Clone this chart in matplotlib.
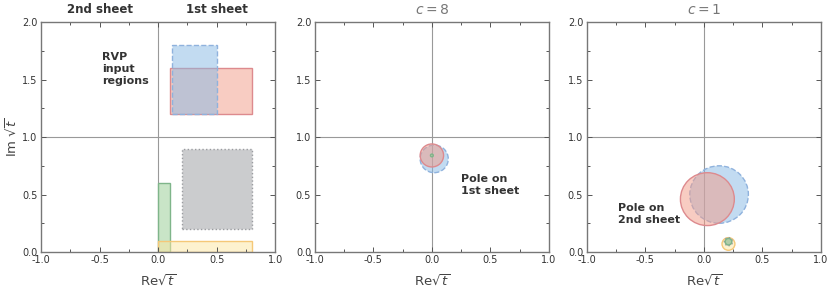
import matplotlib.pyplot as plt
from matplotlib.patches import Rectangle, Circle
from matplotlib.colors import to_rgba

plt.rcParams['axes.unicode_minus'] = False

# RVP input regions (x0, x1, y0, y1), drawn in this order
region_names = ["red", "blue", "gray", "green", "yellow"]
region_x0 = [0.10, 0.12, 0.20, 0.00, 0.00]
region_x1 = [0.80, 0.50, 0.80, 0.10, 0.80]
region_y0 = [1.20, 1.20, 0.20, 0.00, 0.00]
region_y1 = [1.60, 1.80, 0.90, 0.60, 0.10]

# pole regions, c = 8 (center x, center y, radius)
c8_names = ["blue", "red", "green"]
c8_x = [0.02, 0.00, 0.00]
c8_y = [0.81, 0.84, 0.84]
c8_r = [0.12, 0.10, 0.012]

# pole regions, c = 1
c1_names = ["blue", "red", "yellow", "gray", "green"]
c1_x = [0.13, 0.03, 0.21, 0.21, 0.21]
c1_y = [0.50, 0.46, 0.07, 0.09, 0.09]
c1_r = [0.25, 0.23, 0.055, 0.035, 0.028]

styles = {
    "blue":   dict(fc="#86b9e5", ec="#8fb2dd", ls="--", a=0.5),
    "red":    dict(fc="#f39b87", ec="#dd8a8e", ls="-", a=0.5),
    "gray":   dict(fc="#a9abae", ec="#9a9ca0", ls=":", a=0.6),
    "green":  dict(fc="#9ed19a", ec="#7fb58a", ls="-", a=0.55),
    "yellow": dict(fc="#fde6a0", ec="#f5c878", ls="-", a=0.5),
}

def style_patch(p, name):
    s = styles[name]
    p.set_facecolor(to_rgba(s["fc"], s["a"]))
    p.set_edgecolor(s["ec"])
    p.set_linestyle(s["ls"])
    p.set_linewidth(1.0)
    return p

fig = plt.figure(figsize=(8.31, 2.91), dpi=100)
lefts = [0.0493, 0.3787, 0.706]
axes = [fig.add_axes([l, 0.134, 0.282, 0.790]) for l in lefts]

txt = "#333333"
for ax in axes:
    ax.set_xlim(-1, 1)
    ax.set_ylim(0, 2)
    ax.set_xticks([-1, -0.5, 0, 0.5, 1])
    ax.set_xticks([-0.75, -0.25, 0.25, 0.75], minor=True)
    ax.set_yticks([0, 0.5, 1, 1.5, 2])
    ax.set_yticks([0.25, 0.75, 1.25, 1.75], minor=True)
    ax.set_xticklabels(["-1.0", "-0.5", "0.0", "0.5", "1.0"])
    ax.set_yticklabels(["0.0", "0.5", "1.0", "1.5", "2.0"])
    ax.tick_params(which="both", direction="in", top=True, right=True,
                   labelsize=7, colors="#555555", labelcolor=txt, width=0.7, pad=2.5)
    ax.tick_params(which="major", length=3.5)
    ax.tick_params(which="minor", length=2)
    for sp in ax.spines.values():
        sp.set_color("#777777")
        sp.set_linewidth(1.0)
    ax.axvline(0, color="#999999", lw=0.8, zorder=0)
    ax.axhline(1, color="#999999", lw=0.8, zorder=0)
    ax.set_xlabel(r"$\mathrm{Re}\sqrt{t}$", fontsize=9.5, color="#444444", labelpad=6)

axes[0].set_ylabel(r"$\mathrm{Im}\ \sqrt{t}$", fontsize=9.5, color="#444444", labelpad=2)

# panel 1: input regions
ax = axes[0]
for n, x0, x1, y0, y1 in zip(region_names, region_x0, region_x1, region_y0, region_y1):
    ax.add_patch(style_patch(Rectangle((x0, y0), x1 - x0, y1 - y0), n))
ax.text(-0.5, 2.05, "2nd sheet", ha="center", va="bottom", fontsize=8.5,
        fontweight="bold", color=txt)
ax.text(0.5, 2.05, "1st sheet", ha="center", va="bottom", fontsize=8.5,
        fontweight="bold", color=txt)
ax.text(-0.48, 1.74, "RVP\ninput\nregions", ha="left", va="top", fontsize=8,
        fontweight="bold", color=txt, linespacing=1.25)

# panel 2: c = 8
ax = axes[1]
for n, x, y, r in zip(c8_names, c8_x, c8_y, c8_r):
    ax.add_patch(style_patch(Circle((x, y), r), n))
ax.set_title(r"$c = 8$", fontsize=10, color="#777777", pad=6)
ax.text(0.25, 0.68, "Pole on\n1st sheet", ha="left", va="top", fontsize=8,
        fontweight="bold", color=txt, linespacing=1.25)

# panel 3: c = 1
ax = axes[2]
for n, x, y, r in zip(c1_names, c1_x, c1_y, c1_r):
    ax.add_patch(style_patch(Circle((x, y), r), n))
ax.set_title(r"$c = 1$", fontsize=10, color="#777777", pad=6)
ax.text(-0.73, 0.43, "Pole on\n2nd sheet", ha="left", va="top", fontsize=8,
        fontweight="bold", color=txt, linespacing=1.25)

fig.savefig("out.png", dpi=100)
